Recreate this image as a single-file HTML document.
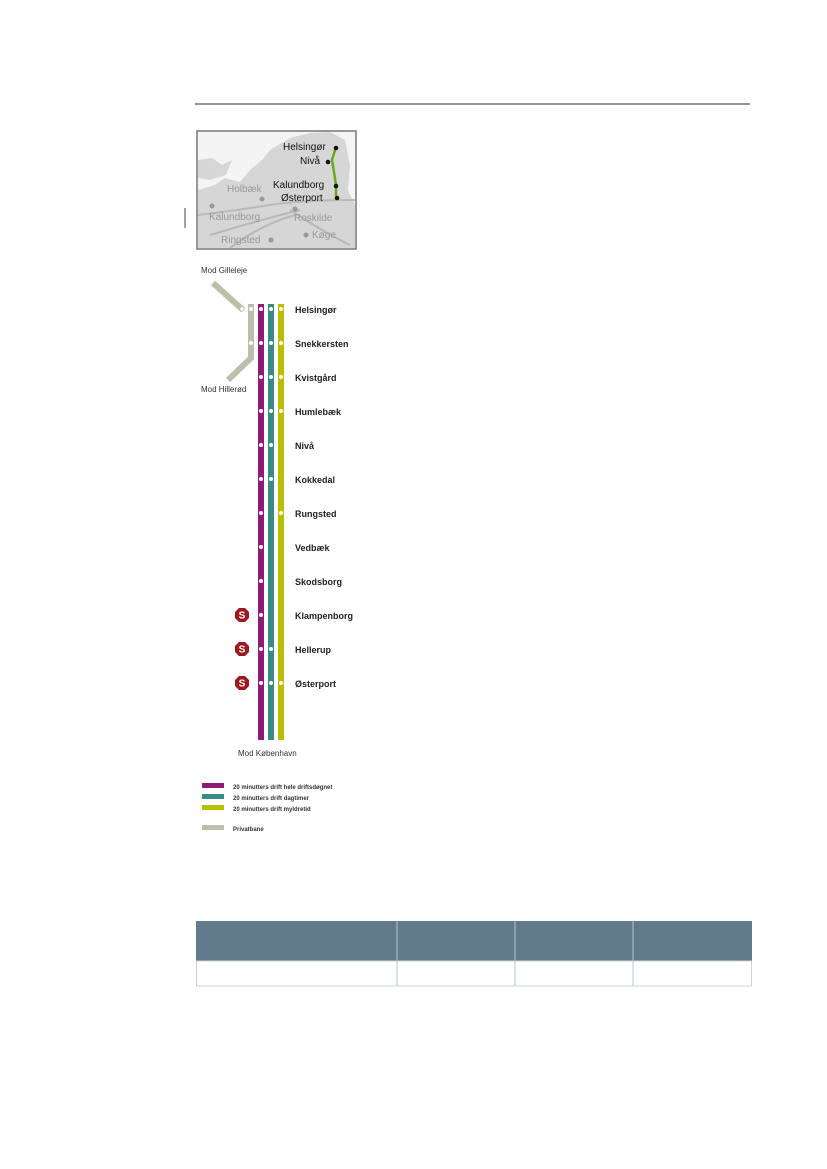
<!DOCTYPE html>
<html><head><meta charset="utf-8"><style>
html,body{margin:0;padding:0;background:#fff;width:827px;height:1169px;overflow:hidden}
svg{position:absolute;left:0;top:0}
text{font-family:"Liberation Sans","DejaVu Sans",sans-serif}
</style></head><body>
<svg width="827" height="1169" viewBox="0 0 827 1169" xmlns="http://www.w3.org/2000/svg">
<line x1="195" y1="104" x2="750" y2="104" stroke="#555" stroke-width="1.3"/>
<line x1="185" y1="208" x2="185" y2="228" stroke="#444" stroke-width="1"/>
<!-- map -->
<rect x="197" y="131" width="159" height="118" fill="#f4f4f4" stroke="#777" stroke-width="1.5"/>
<path d="M198 190 L215 185 L225 178 L240 182 L250 170 L262 160 L270 150 L290 138 L310 133 L330 132 L345 140 L350 165 L348 190 L355 205 L355 248 L198 248 Z" fill="#d6d6d6"/>
<path d="M198 160 L212 158 L222 165 L232 160 L226 175 L210 180 L198 178 Z" fill="#d6d6d6"/>
<path d="M198 215 Q240 210 270 205 T355 200 M210 235 Q260 220 300 210 M290 210 Q320 230 350 245 M230 248 Q260 225 295 215" stroke="#b8b8b8" stroke-width="2" fill="none"/>
<path d="M336 147 L332 160 L334 172 L336 185 L336 196" stroke="#6aa820" stroke-width="2.5" fill="none"/>
<g font-size="10" fill="#111">
<text x="283" y="150">Helsingør</text><circle cx="336" cy="148" r="2.3"/>
<text x="300" y="164">Nivå</text><circle cx="328" cy="162" r="2.3"/>
<text x="273" y="188">Kalundborg</text><circle cx="336" cy="186" r="2.3"/>
<text x="281" y="201">Østerport</text><circle cx="337" cy="198" r="2.3"/>
</g>
<g font-size="10" fill="#999">
<text x="227" y="192">Holbæk</text><circle cx="262" cy="199" r="2.5"/>
<circle cx="212" cy="206" r="2.5"/><text x="209" y="220">Kalundborg</text>
<circle cx="295" cy="209" r="2.5"/><text x="294" y="221">Roskilde</text>
<text x="221" y="243">Ringsted</text><circle cx="271" cy="240" r="2.5"/>
<circle cx="306" cy="235" r="2.5"/><text x="312" y="238">Køge</text>
</g>
<!-- private line -->
<g font-size="8" fill="#333">
<text x="201" y="273">Mod Gilleleje</text>
<text x="201" y="392">Mod Hillerød</text>
<text x="238" y="756">Mod København</text>
</g>
<path d="M213 283 L243 310" stroke="#bcc0aa" stroke-width="6" fill="none"/>
<path d="M251 304 L251 358 L228 380" stroke="#bcc0aa" stroke-width="6" fill="none" stroke-linejoin="miter"/>
<circle cx="242" cy="309" r="2.2" fill="#fff" stroke="#bcc0aa" stroke-width="1"/>
<rect x="258" y="304" width="6" height="436" fill="#8e1a78"/>
<rect x="268" y="304" width="6" height="436" fill="#3a8a88"/>
<rect x="278" y="304" width="6" height="436" fill="#b7c000"/>
<g fill="#fff">
<circle cx="251" cy="309" r="2"/><circle cx="251" cy="343" r="2"/>
<circle cx="261" cy="309" r="2"/><circle cx="271" cy="309" r="2"/><circle cx="281" cy="309" r="2"/>
<circle cx="261" cy="343" r="2"/><circle cx="271" cy="343" r="2"/><circle cx="281" cy="343" r="2"/>
<circle cx="261" cy="377" r="2"/><circle cx="271" cy="377" r="2"/><circle cx="281" cy="377" r="2"/>
<circle cx="261" cy="411" r="2"/><circle cx="271" cy="411" r="2"/><circle cx="281" cy="411" r="2"/>
<circle cx="261" cy="445" r="2"/><circle cx="271" cy="445" r="2"/>
<circle cx="261" cy="479" r="2"/><circle cx="271" cy="479" r="2"/>
<circle cx="261" cy="513" r="2"/><circle cx="281" cy="513" r="2"/>
<circle cx="261" cy="547" r="2"/><circle cx="261" cy="581" r="2"/><circle cx="261" cy="615" r="2"/>
<circle cx="261" cy="649" r="2"/><circle cx="271" cy="649" r="2"/>
<circle cx="261" cy="683" r="2"/><circle cx="271" cy="683" r="2"/><circle cx="281" cy="683" r="2"/>
</g>
<g font-size="9" font-weight="bold" fill="#222">
<text x="295" y="313">Helsingør</text><text x="295" y="347">Snekkersten</text>
<text x="295" y="381">Kvistgård</text><text x="295" y="415">Humlebæk</text>
<text x="295" y="449">Nivå</text><text x="295" y="483">Kokkedal</text>
<text x="295" y="517">Rungsted</text><text x="295" y="551">Vedbæk</text>
<text x="295" y="585">Skodsborg</text><text x="295" y="619">Klampenborg</text>
<text x="295" y="653">Hellerup</text><text x="295" y="687">Østerport</text>
</g>
<g>
<g transform="translate(242,615)"><polygon points="-7,-3 -3,-7 3,-7 7,-3 7,3 3,7 -3,7 -7,3" fill="#9a1a20"/><text x="0" y="3.5" font-size="10" font-weight="bold" fill="#fff" text-anchor="middle">S</text></g>
<g transform="translate(242,649)"><polygon points="-7,-3 -3,-7 3,-7 7,-3 7,3 3,7 -3,7 -7,3" fill="#9a1a20"/><text x="0" y="3.5" font-size="10" font-weight="bold" fill="#fff" text-anchor="middle">S</text></g>
<g transform="translate(242,683)"><polygon points="-7,-3 -3,-7 3,-7 7,-3 7,3 3,7 -3,7 -7,3" fill="#9a1a20"/><text x="0" y="3.5" font-size="10" font-weight="bold" fill="#fff" text-anchor="middle">S</text></g>
</g>
<!-- legend -->
<rect x="202" y="783" width="22" height="5" fill="#8e1a78"/>
<rect x="202" y="794" width="22" height="5" fill="#3a8a88"/>
<rect x="202" y="805" width="22" height="5" fill="#b7c000"/>
<rect x="202" y="825" width="22" height="5" fill="#bcc0aa"/>
<g font-size="6" font-weight="bold" fill="#333">
<text x="233" y="789">20 minutters drift hele driftsdøgnet</text>
<text x="233" y="800">20 minutters drift dagtimer</text>
<text x="233" y="811">20 minutters drift myldretid</text>
<text x="233" y="831">Privatbane</text>
</g>
<!-- table -->
<rect x="196" y="921" width="556" height="40" fill="#607a8c"/>
<rect x="196.5" y="961" width="555" height="25" fill="#fff" stroke="#ccd3d8"/>
<g stroke="#b8c4cc" stroke-width="1">
<line x1="397" y1="921" x2="397" y2="986"/><line x1="515" y1="921" x2="515" y2="986"/><line x1="633" y1="921" x2="633" y2="986"/>
</g>
</svg>
</body></html>
